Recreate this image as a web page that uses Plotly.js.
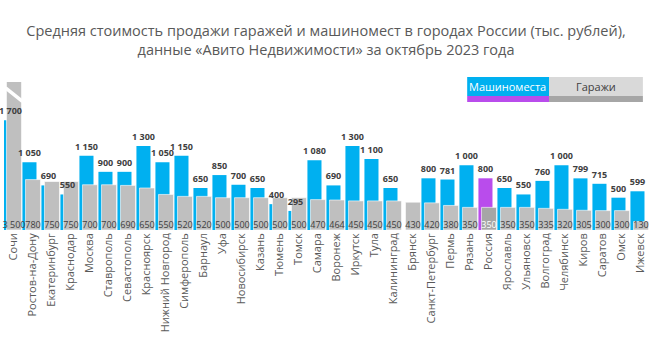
<!DOCTYPE html>
<html>
<head>
<meta charset="utf-8">
<script src="https://cdn.plot.ly/plotly-3.0.1.min.js"></script>
<style>html,body{margin:0;padding:0;background:#fff;}#chart{width:652px;height:348px;}</style>
</head>
<body>
<div id="chart"></div>
<script>
const cities = ['Сочи','Ростов-на-Дону','Екатеринбург','Краснодар','Москва','Ставрополь','Севастополь','Красноярск','Нижний Новгород','Симферополь','Барнаул','Уфа','Новосибирск','Казань','Тюмень','Томск','Самара','Воронеж','Иркутск','Тула','Калининград','Брянск','Санкт-Петербург','Пермь','Рязань','Россия','Ярославль','Ульяновск','Волгоград','Челябинск','Киров','Саратов','Омск','Ижевск'];
const parking = [1700,1050,690,550,1150,900,900,1300,1050,1150,650,850,700,650,400,295,1080,690,1300,1100,650,null,800,781,1000,800,650,550,760,1000,799,715,500,599];
const garages = [3500,780,750,750,700,700,690,650,550,520,520,500,500,500,500,500,470,464,450,450,450,430,420,380,350,350,350,350,335,320,305,300,300,130];
const highlight = 'Россия';
const seriesNames = ['Машиноместа','Гаражи'];

function fmt(v){ if(v===null||v===undefined) return ''; return String(v).replace(/\B(?=(\d{3})+(?!\d))/g,' '); }

const blueColors = cities.map(c => c===highlight ? '#b94cec' : '#00b0f0');
const grayColors = cities.map(c => c===highlight ? '#a6a6a6' : '#bfbfbf');
const grayTextColors = cities.map(c => c===highlight ? '#ffffff' : '#404040');

const idx = cities.map((c,i)=>i);
const PW = 0.74, POFF = -0.53;   // parking bar width / offset
const GW = 0.79, GOFF = -0.37;   // garage bar width / offset

const tracePark = {
  type:'bar', x: idx, y: parking, name: seriesNames[0],
  width: PW, offset: POFF,
  marker:{color: blueColors},
  hoverinfo:'skip'
};
const traceGar = {
  type:'bar', x: idx, y: garages, name: seriesNames[1],
  width: GW, offset: GOFF,
  marker:{color: grayColors, line:{color:'#ffffff', width:0.6}},
  hoverinfo:'skip'
};
// value labels on top of everything
const traceParkText = {
  type:'bar', x: idx, y: parking,
  width: PW, offset: POFF,
  marker:{color:'rgba(0,0,0,0)'},
  text: parking.map(fmt), textposition:'outside', constraintext:'none', cliponaxis:false, textangle:0,
  textfont:{family:'Open Sans', size:9, color:'#404040', weight:700},
  hoverinfo:'skip'
};
const traceGarText = {
  type:'scatter', mode:'text',
  x: idx.map(i => i + GOFF + GW/2), y: garages.map(() => 0),
  text: garages.map(fmt), textposition:'top center', cliponaxis:false,
  textfont:{family:'Open Sans', size:9, color: grayTextColors},
  hoverinfo:'skip'
};

const yMax = 2290;
const layout = {
  width:652, height:348,
  margin:{l:4, r:2, t:82, b:118},
  paper_bgcolor:'#ffffff', plot_bgcolor:'#ffffff',
  showlegend:false,
  barmode:'overlay',
  title:{text:'Средняя стоимость продажи гаражей и машиномест в городах России (тыс. рублей),<br>данные «Авито Недвижимости» за октябрь 2023 года',
    font:{family:'Open Sans', size:14.5, color:'#595959'}, x:0.5, xanchor:'center', y:0.896, yanchor:'top'},
  xaxis:{type:'linear', range:[-0.5, cities.length-0.5], tickmode:'array', tickvals: idx, ticktext: cities,
    tickangle:-90, tickfont:{family:'Open Sans', size:11, color:'#595959'}, ticks:'', showgrid:false, zeroline:false, showline:false, fixedrange:true},
  yaxis:{range:[0, yMax], visible:false, showgrid:false, zeroline:false, fixedrange:true},
  shapes:[
    {type:'line', xref:'x', yref:'y', x0:-0.42, x1:0.47, y0:2200, y1:1990, line:{color:'#ffffff', width:3.5}, layer:'above'},
    {type:'rect', xref:'paper', yref:'paper', x0:0.717, x1:0.8437, y0:0.905, y1:1.034, fillcolor:'#00b0f0', line:{width:0}},
    {type:'rect', xref:'paper', yref:'paper', x0:0.717, x1:0.8437, y0:0.865, y1:0.905, fillcolor:'#b94cec', line:{width:0}},
    {type:'rect', xref:'paper', yref:'paper', x0:0.8437, x1:0.989, y0:0.905, y1:1.034, fillcolor:'#d9d9d9', line:{width:0}},
    {type:'rect', xref:'paper', yref:'paper', x0:0.8437, x1:0.989, y0:0.865, y1:0.905, fillcolor:'#a6a6a6', line:{width:0}}
  ],
  annotations:[
    {xref:'paper', yref:'paper', x:0.780, y:0.970, text:seriesNames[0], showarrow:false, font:{family:'Open Sans', size:11, color:'#ffffff'}, xanchor:'center', yanchor:'middle'},
    {xref:'paper', yref:'paper', x:0.916, y:0.970, text:seriesNames[1], showarrow:false, font:{family:'Open Sans', size:11, color:'#404040'}, xanchor:'center', yanchor:'middle'}
  ]
};

Plotly.newPlot('chart', [tracePark, traceGar, traceParkText, traceGarText], layout, {displayModeBar:false, staticPlot:true});
</script>
</body>
</html>
